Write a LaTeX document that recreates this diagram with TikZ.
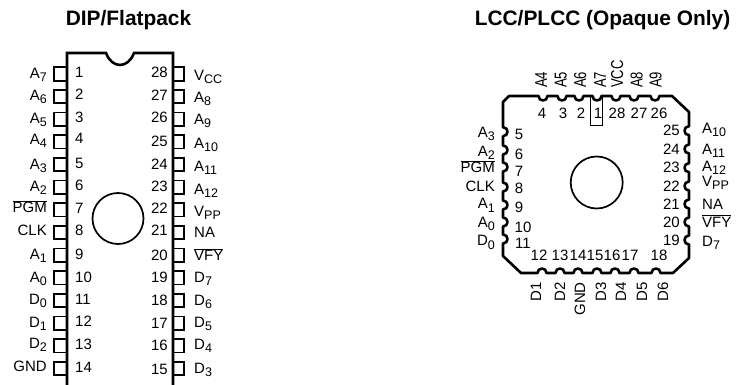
\documentclass[tikz,border=0pt]{standalone}
\usepackage{graphicx}
\usepackage{fontspec}
\setmainfont{Liberation Sans}
\newcommand{\ssb}[1]{\raisebox{-3pt}{\fontsize{12.5}{12.5}\selectfont #1}}
\newcommand{\ovl}[1]{\vbox{\hrule height 0.8pt\kern 1.2pt\hbox{#1}}}
\tikzset{
  lab/.style={inner sep=0pt,font=\fontsize{15}{17}\selectfont},
  lend/.style={lab,anchor=base east},
  lstart/.style={lab,anchor=base west},
  lmid/.style={lab,anchor=base},
  rotl/.style={lab,anchor=base west,rotate=90},
  rotr/.style={lab,anchor=base east,rotate=90},
  ttl/.style={inner sep=0pt,anchor=base,font=\fontsize{20.9}{23}\selectfont\bfseries},
  body/.style={draw=black,line width=2.6pt},
  thin/.style={draw=black,line width=1.7pt},
  hair/.style={draw=black,line width=0.8pt}
}
\begin{document}
\begin{tikzpicture}[x=1pt,y=-1pt]
\useasboundingbox (0,0) rectangle (737,385);
\fill[white] (0,0) rectangle (737,385);
\node[ttl] (t1) at (128.5,26) {DIP/Flatpack};
\node[ttl] (t2) at (602.5,26) {LCC/PLCC (Opaque Only)};
% DIP body
\draw[body] (67,385) -- (67,53) -- (106,53) .. controls (112,69) and (128,69) .. (134,53) -- (173,53) -- (173,385);
\draw[thin] (118,218.5) circle (25.5);
\foreach \i in {0,...,13}{
  \pgfmathsetmacro{\py}{74+22.65*\i}
  \draw[thin] (67,\py-6.7) -- (54,\py-6.7) -- (54,\py+6.7) -- (67,\py+6.7);
  \draw[thin] (173,\py-6.7) -- (184,\py-6.7) -- (184,\py+6.7) -- (173,\py+6.7);
}
\foreach \n/\yy in {1/78,2/100,3/123,4/144,5/169,6/191,7/214,8/236,9/259,10/282,11/304,12/326,13/349,14/372}
  \node[lstart] (dn\n) at (75,\yy) {\n};
\foreach \n/\yy in {28/78,27/101,26/123,25/147,24/170,23/192,22/214,21/236,20/260,19/282,18/305,17/328,16/350,15/374}
  \node[lend] (dn\n) at (168,\yy) {\n};
\foreach \k/\t/\yy in {a/A\ssb{7}/79,b/A\ssb{6}/101,c/A\ssb{5}/124,d/A\ssb{4}/145,e/A\ssb{3}/170,f/A\ssb{2}/192,g/\ovl{PGM}/213,h/CLK/236,i/A\ssb{1}/259,j/A\ssb{0}/282,k/D\ssb{0}/304,l/D\ssb{1}/327,m/D\ssb{2}/348,n/GND/371}
  \node[lend] (dl\k) at (47,\yy) {\t};
\foreach \k/\t/\yy in {a/V\ssb{CC}/81,b/A\ssb{8}/103,c/A\ssb{9}/125,d/A\ssb{10}/149,e/A\ssb{11}/172,f/A\ssb{12}/195,g/V\ssb{PP}/217,h/NA/237,i/\ovl{VFY}/261,j/D\ssb{7}/282,k/D\ssb{6}/305,l/D\ssb{5}/327,m/D\ssb{4}/349,n/D\ssb{3}/373}
  \node[lstart] (dr\k) at (194,\yy) {\t};
% PLCC outline
\draw[body,line join=round] (509,96)
  \foreach \x in {543,562,579,597,616,634,655}{ -- (\x-4.5,96) .. controls (\x-4.5,102) and (\x+4.5,102) .. (\x+4.5,96) }
  -- (672,96) -- (689,112)
  \foreach \y in {130.7,149,167.7,186,204,222,240}{ -- (689,\y-4.5) .. controls (683,\y-4.5) and (683,\y+4.5) .. (689,\y+4.5) }
  -- (689,258) -- (673,273)
  \foreach \x in {656,634,615,597,578,560,542}{ -- (\x+4.5,273) .. controls (\x+4.5,267) and (\x-4.5,267) .. (\x-4.5,273) }
  -- (521,273) -- (503,256)
  \foreach \y in {239,222,205,187,167,150,131.7}{ -- (503,\y+4.5) .. controls (509,\y+4.5) and (509,\y-4.5) .. (503,\y-4.5) }
  -- (503,102) -- cycle;
\draw[hair] (590.7,97) -- (590.7,125) -- (602.3,125) -- (602.3,97);
\draw[thin] (596.7,182.5) circle (26);
% PLCC numbers
\foreach \n/\x in {4/542,3/563,2/581,1/598,28/617,27/639,26/659}
  \node[lmid] (pn\n) at (\x,119) {\n};
\foreach \n/\x/\yy in {5/519/140,6/519/160,7/519/177,8/519/194,9/519/212,10/523/233,11/523/248}
  \node[lmid] (pn\n) at (\x,\yy) {\n};
\foreach \n/\yy in {25/136,24/155,23/173,22/192,21/210,20/228,19/245}
  \node[lend] (pn\n) at (680,\yy) {\n};
\foreach \n/\x in {12/539,13/560,14/578,15/595,16/612,17/630,18/659}
  \node[lmid] (pn\n) at (\x,261) {\n};
% PLCC labels
\foreach \k/\t/\x in {a/A4/547,b/A5/566.7,c/A6/586,d/A7/606,e/VCC/623,f/A8/642.7,g/A9/661.7}
  \node[rotl] (pt\k) at (\x,88) {\scalebox{0.87}[1.15]{\t}};
\foreach \k/\t/\x in {a/D1/541,b/D2/565,c/GND/585,d/D3/606,e/D4/626,f/D5/647,g/D6/668}
  \node[rotr] (pb\k) at (\x,282) {\t};
\foreach \k/\t/\yy in {a/A\ssb{3}/138,b/A\ssb{2}/157,c/\ovl{PGM}/173,d/CLK/192,e/A\ssb{1}/209,f/A\ssb{0}/228,g/D\ssb{0}/246}
  \node[lend] (pl\k) at (495,\yy) {\t};
\foreach \k/\t/\yy in {a/A\ssb{10}/134,b/A\ssb{11}/155,c/A\ssb{12}/172,d/V\ssb{PP}/187,e/NA/210,f/\ovl{VFY}/227,g/D\ssb{7}/247}
  \node[lstart] (pr\k) at (702,\yy) {\t};
\end{tikzpicture}
\end{document}
